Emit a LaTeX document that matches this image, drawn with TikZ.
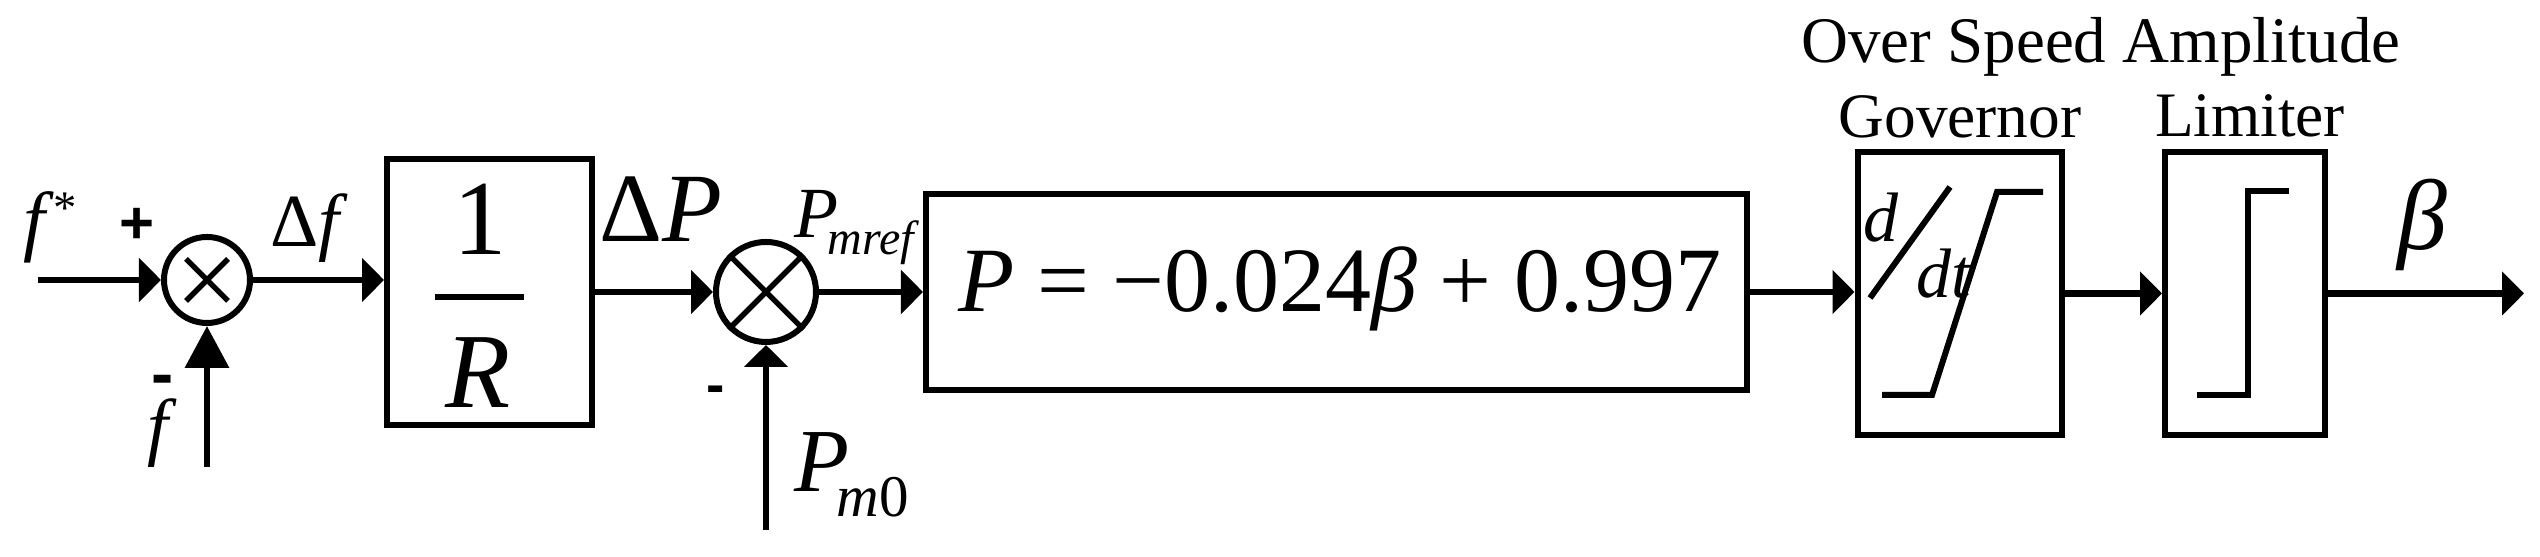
\documentclass[tikz,border=0pt]{standalone}
\usepackage{fontspec}
\setmainfont{Liberation Serif}
\newfontfamily\arialf{Liberation Sans}
\usetikzlibrary{arrows.meta}
\begin{document}
\begin{tikzpicture}[x=0.15pt,y=-0.15pt,
  wire/.style={line width=1pt,-{Triangle[length=3.3pt,width=6.45pt]}},
  blk/.style={draw,line width=0.9pt,inner sep=0pt},
  sumc/.style={draw,circle,line width=0.9pt,inner sep=0pt},
  lbl/.style={inner sep=0pt,outer sep=0pt},
  curve/.style={line width=0.9pt},
]
\useasboundingbox (0,0) rectangle (2540,557);
% blocks
\node[sumc,minimum size=12.9pt] (c1) at (207,280) {};
\node[blk,minimum width=30.75pt,minimum height=39.9pt] (b1) at (489.5,292) {};
\node[sumc,minimum size=15pt] (c2) at (766,292) {};
\node[blk,minimum width=123.15pt,minimum height=29.4pt] (b3) at (1336.5,292) {};
\node[blk,minimum width=30.6pt,minimum height=42.45pt] (gov) at (1959.5,293.5) {};
\node[blk,minimum width=24pt,minimum height=42.45pt] (lim) at (2245,293.5) {};
% free ends
\coordinate (in) at (38,280);
\coordinate (fb) at (207,467);
\coordinate (pm) at (766,530);
\coordinate (out) at (2524,293.5);
% wires
\draw[wire] (in) -- (c1.west);
\draw[line width=1pt,-{Triangle[length=6.3pt,width=6.45pt]}] (fb) -- (c1.south);
\draw[wire] (c1.east) -- (c1.east -| b1.west);
\draw[wire] (b1.east) -- (c2.west);
\draw[wire] (pm) -- (c2.south);
\draw[wire] (c2.east) -- (b3.west);
\draw[wire] (b3.east) -- (b3.east -| gov.west);
\draw[wire] (gov.east) -- (lim.west);
\draw[wire] (lim.east) -- (out);
% crosses
\draw[line width=0.8pt] ([shift={(-21,-21)}]c1.center) -- ([shift={(21,21)}]c1.center);
\draw[line width=0.8pt] ([shift={(-21,21)}]c1.center) -- ([shift={(21,-21)}]c1.center);
\draw[line width=0.8pt] (c2.45) -- (c2.225);
\draw[line width=0.8pt] (c2.135) -- (c2.315);
% block 1 contents
\node[lbl,anchor=base] (one) at (480,255) {\fontsize{16}{18}\selectfont 1};
\draw[line width=0.9pt] (435,297) -- (524,297);
\node[lbl,anchor=base] (R) at (478,408) {\fontsize{16}{18}\selectfont\textit{R}};
% formula
\node[lbl,anchor=base] (eq) at (1340,312) {\fontsize{13.8}{15}\selectfont\textit{P} = −0.024\textit{β} + 0.997};
% governor
\draw[curve] (1882,395) -- (1932,395) -- (1997,192) -- (2043,192);
\node[lbl,anchor=base west] (d1) at (1863,242) {\fontsize{10.5}{12}\selectfont\textit{d}};
\draw[curve] (1870,298) -- (1950,187);
\node[lbl,anchor=base west] (d2) at (1916,298) {\fontsize{10.5}{12}\selectfont\textit{dt}};
% limiter
\draw[curve] (2197,395) -- (2248,395) -- (2248,191) -- (2289,191);
% labels
\node[lbl,anchor=base west] (fs) at (23,247) {\fontsize{11.7}{13}\selectfont\textit{f}\raisebox{3.45pt}{\fontsize{7}{8}\selectfont *}};
\node[lbl] (plus) at (137,226) {\arialf\bfseries\fontsize{9}{10}\selectfont +};
\node[lbl] (m1) at (163,386) {\arialf\bfseries\fontsize{10}{11}\selectfont -};
\node[lbl,anchor=base] (fl) at (162,452) {\fontsize{11.25}{12.5}\selectfont\textit{f}};
\node[lbl,anchor=base west] (df) at (270,247) {\fontsize{11.25}{12.5}\selectfont Δ\textit{f}};
\node[lbl,anchor=base west] (dP) at (599,242) {\fontsize{14.7}{16}\selectfont Δ\textit{P}};
\node[lbl,anchor=base west] (pref) at (794,238) {\fontsize{10.8}{12}\selectfont\textit{P}\kern-1.5pt\raisebox{-2.55pt}{\fontsize{7.2}{8}\selectfont\textit{mref}}};
\node[lbl] (m2) at (716,395) {\arialf\bfseries\fontsize{8.25}{9}\selectfont -};
\node[lbl,anchor=base west] (pm0) at (794,492) {\fontsize{13.5}{15}\selectfont\textit{P}\kern-1.8pt\raisebox{-3.75pt}{\fontsize{8.85}{10}\selectfont\textit{m}0}};
\node[lbl,anchor=base] (beta) at (2422,250) {\fontsize{15}{16.5}\selectfont\textit{β}};
\node[lbl,anchor=base] (t1) at (2101,63) {\fontsize{9.75}{11}\selectfont Over Speed Amplitude};
\node[lbl,anchor=base] (t2) at (1960,138) {\fontsize{9.5}{11}\selectfont Governor};
\node[lbl,anchor=base] (t3) at (2250,137) {\fontsize{9.5}{11}\selectfont Limiter};
\end{tikzpicture}
\end{document}
